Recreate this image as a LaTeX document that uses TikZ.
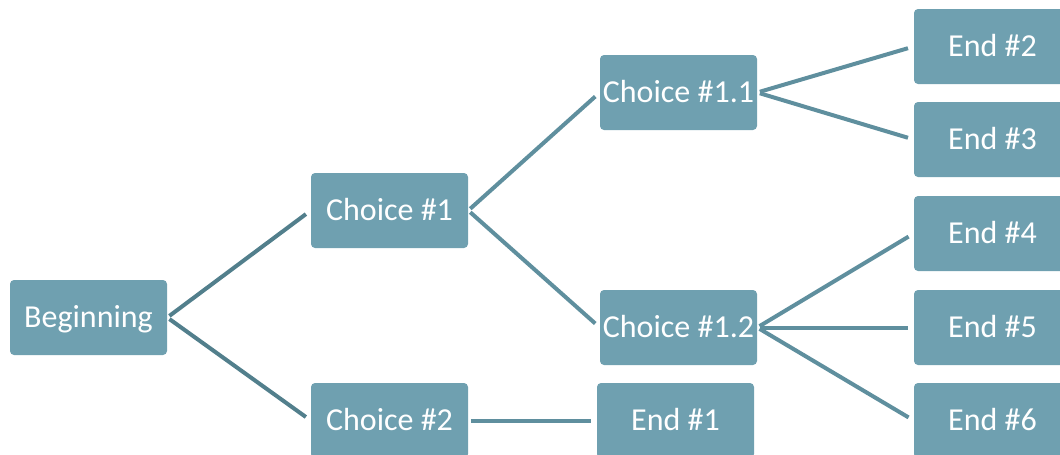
\documentclass[tikz,border=0pt]{standalone}
\usepackage{fontspec}
\setmainfont{Carlito}
\usepackage{tikz}
\usetikzlibrary{calc}
\definecolor{boxfill}{HTML}{6FA0B0}
\definecolor{linkdark}{HTML}{527F8C}
\definecolor{linklight}{HTML}{5F8F9E}

\begin{document}
\begin{tikzpicture}[x=0.75pt,y=-0.75pt,
    stage/.style={rectangle,rounded corners=3pt,fill=boxfill,text=white,
      minimum width=117.75pt,minimum height=56.25pt,inner sep=0pt,
      text height=15pt,text depth=0pt,
      font=\fontsize{24}{28}\selectfont},
    link/.style={draw=linklight,line width=3pt,shorten <=2pt,shorten >=4.5pt},
    firstlink/.style={link,draw=linkdark}]
  % Page size (pixels of the reference)
  \useasboundingbox (0,0) rectangle (1060,454);
  %
  % Boxes
  \node[stage] (beg) at (88.5,317.5)  {Beginning};
  \node[stage] (c1)  at (389.5,210.5) {Choice \#1};
  \node[stage] (c2)  at (389.5,420.5) {Choice \#2};
  \node[stage] (c11) at (678.5,92.5)  {Choice \#1.1};
  \node[stage] (c12) at (678.5,327.5) {Choice \#1.2};
  \node[stage] (e1)  at (675.5,420.5) {End \#1};
  \node[stage] (e2)  at (992.5,46.5)  {End \#2};
  \node[stage] (e3)  at (992.5,139.5) {End \#3};
  \node[stage] (e4)  at (992.5,233.5) {End \#4};
  \node[stage] (e5)  at (992.5,327.5) {End \#5};
  \node[stage] (e6)  at (992.5,420.5) {End \#6};
  %
  % Links
  \draw[firstlink] (beg.east) -- (c1.west);
  \draw[firstlink] (beg.east) -- (c2.west);
  \draw[link] (c1.east) -- (c11.west);
  \draw[link] (c1.east) -- (c12.west);
  \draw[link] (c2.east) -- (e1.west);
  \draw[link] (c11.east) -- (e2.west);
  \draw[link] (c11.east) -- (e3.west);
  \draw[link] (c12.east) -- (e4.west);
  \draw[link] (c12.east) -- (e5.west);
  \draw[link] (c12.east) -- (e6.west);
  %
\end{tikzpicture}
\end{document}
